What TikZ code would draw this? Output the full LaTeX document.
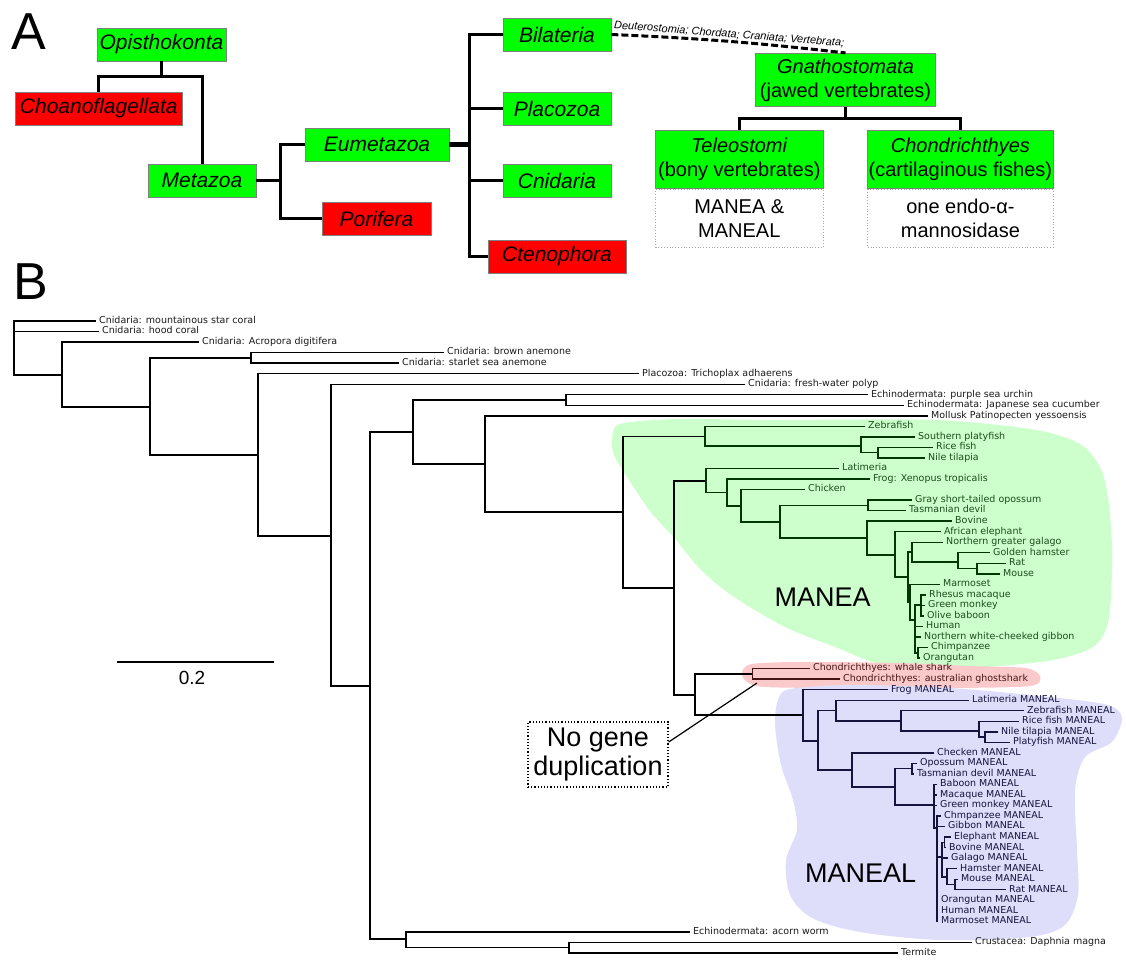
\documentclass[tikz,border=0pt]{standalone}
\usepackage{fontspec}
\setmainfont{Liberation Sans}
\newfontfamily\treefont{DejaVu Sans}
\usepackage{tikz}
\usetikzlibrary{positioning}
\usepackage{xcolor}
\definecolor{taxgreen}{RGB}{0,255,0}
\definecolor{taxred}{RGB}{255,0,0}
\definecolor{maneafill}{RGB}{204,255,204}
\definecolor{sharkfill}{RGB}{250,202,202}
\definecolor{manealfill}{RGB}{222,222,250}
\definecolor{maneaink}{RGB}{0,55,0}
\definecolor{maneatext}{RGB}{30,75,30}
\definecolor{manealink}{RGB}{20,20,60}
\definecolor{sharkink}{RGB}{70,20,20}
\definecolor{leafgray}{RGB}{25,25,25}

\begin{document}
\begin{tikzpicture}[
    x=1pt, y=-1pt,
    taxon/.style={draw=gray, line width=0.8pt, rectangle, minimum height=33pt,
                  inner sep=0pt, font=\fontsize{21}{24}\selectfont\itshape},
    hasgene/.style={taxon, fill=taxgreen},
    nogene/.style={taxon, fill=taxred},
    clade/.style={draw=gray, line width=0.8pt, fill=taxgreen, align=center,
                  minimum height=57.6pt, inner sep=0pt, font=\fontsize{20}{24}\selectfont},
    genes/.style={draw=gray!70, dotted, line width=0.8pt, align=center,
                  minimum height=58pt, inner sep=0pt, font=\fontsize{20}{24}\selectfont},
    link/.style={line width=3pt},
    leaf/.style={anchor=west, inner xsep=3pt, inner ysep=0pt, text height=6.6pt,
                 text depth=1.9pt, font=\treefont\fontsize{9.5}{10}\selectfont},
    branch/.style={line width=1.4pt},
    tag/.style={inner sep=0pt, anchor=base west},
  ]
    \useasboundingbox (0,0) rectangle (1126,959);

    % ---------- A ----------
    \node[tag, font=\fontsize{52}{52}\selectfont] (panelA) at (11,49) {A};

    \node[hasgene, minimum width=129pt] (opi) at (161.5,44.5) {Opisthokonta};
    \node[nogene, minimum width=166.5pt] (choano) at (98.75,108.5) {Choanoflagellata};
    \node[hasgene, minimum width=108pt] (meta) at (202,180.5) {Metazoa};
    \node[hasgene, minimum width=144pt] (eume) at (377,144.5) {Eumetazoa};
    \node[nogene, minimum width=109pt] (pori) at (376.5,218.5) {Porifera};
    \node[hasgene, minimum width=108pt] (bila) at (557,34.5) {Bilateria};
    \node[hasgene, minimum width=108pt] (placo) at (557,108.5) {Placozoa};
    \node[hasgene, minimum width=108pt] (cnid) at (557,180.5) {Cnidaria};
    \node[nogene, minimum width=138pt] (cteno) at (557,256.5) {Ctenophora};

    \draw[link] (opi.south) -- ++(0,15.5) -| (choano.north);
    \draw[link] (opi.south) -- ++(0,15.5) -| (meta.north);
    \draw[link] (meta.east) -- ++(24,0) |- (eume.west);
    \draw[link] (meta.east) -- ++(24,0) |- (pori.west);
    \draw[line width=4.5pt] (eume.east) -- ++(20,0);
    \foreach \t in {bila,placo,cnid,cteno}
      \draw[link] (eume.east) -- ++(20,0) |- (\t.west);

    \node[clade, minimum width=180pt, minimum height=53.4pt] (gna) at (845.5,80)
      {\textit{Gnathostomata}\\(jawed vertebrates)};
    \node[clade, minimum width=167.5pt] (tele) at (739.3,159.5)
      {\textit{Teleostomi}\\(bony vertebrates)};
    \node[clade, minimum width=185.3pt] (chon) at (960.4,159.5)
      {\textit{Chondrichthyes}\\(cartilaginous fishes)};
    \node[genes, minimum width=167.5pt, below=0pt of tele] (telegenes) {MANEA \&\\MANEAL};
    \node[genes, minimum width=185.3pt, below=0pt of chon] (chongenes) {one endo-α-\\mannosidase};

    \foreach \t in {tele,chon}
      \draw[link] (gna.south) -- ++(0,11.5) -| (\t.north);
    \draw[line width=3pt, dash pattern=on 7pt off 3pt] (bila.east) to[bend left=2]
      node[sloped, above, inner sep=1pt, font=\fontsize{11}{11}\selectfont\itshape]
      {Deuterostomia; Chordata; Craniata; Vertebrata;} (gna.north);

    % ---------- B ----------
    \node[tag, font=\fontsize{52}{52}\selectfont] (panelB) at (13,299) {B};

    \fill[maneafill] plot[smooth cycle, tension=0.5] coordinates {
      (612,440) (620,424) (680,419) (770,420) (935,420) (1036,430) (1080,444)
      (1100,467) (1108,497) (1112,544) (1112,573) (1108,623) (1093,647) (1053,660)
      (986,667) (935,668) (880,664) (835,647) (785,627) (734,597) (701,570)
      (676,540) (650,511) (627,477) (614,455)};
    \fill[sharkfill] plot[smooth cycle, tension=0.5] coordinates {
      (742,672) (752,664) (800,662) (900,663) (970,666) (1025,668) (1040,676)
      (1030,686) (950,688) (850,688) (765,687) (746,681)};
    \fill[manealfill] plot[smooth cycle, tension=0.5] coordinates {
      (790,689) (850,685) (950,688) (1050,697) (1108,705) (1122,718) (1112,742)
      (1085,757) (1075,790) (1077,850) (1078,895) (1065,925) (1030,937) (940,940)
      (860,932) (812,918) (790,895) (786,860) (797,830) (793,800) (781,765)
      (775,725) (778,700)};

    \node[tag, font=\fontsize{27}{27}\selectfont] (maneatag) at (774.5,606) {MANEA};
    \node[tag, font=\fontsize{27}{27}\selectfont] (manealtag) at (805,882.7) {MANEAL};

    % leaves
    \foreach \i/\x/\t in {1/96/{Cnidaria: mountainous star coral}, 2/99/{Cnidaria: hood coral},
        3/199/{Cnidaria: Acropora digitifera}, 4/444/{Cnidaria: brown anemone},
        5/399/{Cnidaria: starlet sea anemone}, 6/639/{Placozoa: Trichoplax adhaerens},
        7/745/{Cnidaria: fresh-water polyp}, 8/868/{Echinodermata: purple sea urchin},
        9/904/{Echinodermata: Japanese sea cucumber}, 10/928/{Mollusk Patinopecten yessoensis},
        59/690/{Echinodermata: acorn worm}, 60/972/{Crustacea: Daphnia magna}, 61/898/{Termite}}
      \node[leaf, text=leafgray] (l\i) at (\x,{321+(\i-1)*10.533}) {\t};
    \foreach \i/\x/\t in {11/865/Zebrafish, 12/915/Southern platyfish, 13/933/Rice fish,
        14/925/Nile tilapia, 15/839/Latimeria, 16/870/{Frog: Xenopus tropicalis},
        17/805/Chicken, 18/912/Gray short-tailed opossum, 19/906/Tasmanian devil,
        20/952/Bovine, 21/941/African elephant, 22/943/Northern greater galago,
        23/990/Golden hamster, 24/1006/Rat, 25/1000/Mouse, 26/940/Marmoset,
        27/926/Rhesus macaque, 28/925/Green monkey, 29/924/Olive baboon, 30/923/Human,
        31/921/Northern white-cheeked gibbon, 32/928/Chimpanzee, 33/920/Orangutan}
      \node[leaf, text=maneatext] (l\i) at (\x,{321+(\i-1)*10.533}) {\t};
    \foreach \i/\x/\t in {34/810/{Chondrichthyes: whale shark},
        35/840/{Chondrichthyes: australian ghostshark}}
      \node[leaf, text=sharkink] (l\i) at (\x,{321+(\i-1)*10.533}) {\t};
    \foreach \i/\x/\t in {36/888/Frog MANEAL, 37/969/Latimeria MANEAL, 38/1024/Zebrafish MANEAL,
        39/1019/Rice fish MANEAL, 40/998/Nile tilapia MANEAL, 41/1010/Platyfish MANEAL,
        42/934/Checken MANEAL, 43/917/Opossum MANEAL, 44/914/Tasmanian devil MANEAL,
        45/937/Baboon MANEAL, 46/937/Macaque MANEAL, 47/937/Green monkey MANEAL,
        48/941/Chmpanzee MANEAL, 49/945/Gibbon MANEAL, 50/951/Elephant MANEAL,
        51/946/Bovine MANEAL, 52/948/Galago MANEAL, 53/957/Hamster MANEAL,
        54/958/Mouse MANEAL, 55/1006/Rat MANEAL, 56/938/Orangutan MANEAL,
        57/938/Human MANEAL, 58/938/Marmoset MANEAL}
      \node[leaf, text=manealink] (l\i) at (\x,{321+(\i-1)*10.533}) {\t};

    % internal nodes
    \coordinate (r0) at (14,348);       \coordinate (n1) at (62,375);
    \coordinate (n2) at (150,407);      \coordinate (na) at (251,357.9);
    \coordinate (n3) at (258,455);      \coordinate (n4) at (331,536);
    \coordinate (n5) at (370,686);      \coordinate (n6) at (413,432);
    \coordinate (nech) at (566,400);    \coordinate (n7) at (485,464);
    \coordinate (n8) at (623,512);      \coordinate (n9) at (674,588);
    \coordinate (nac) at (406,939);     \coordinate (ndt) at (569,947.7);
    \coordinate (nfish) at (705,436.7); \coordinate (nf2) at (861,446);
    \coordinate (nf3) at (878,452.7);   \coordinate (ntet) at (706,481);
    \coordinate (nt2) at (727,492.5);   \coordinate (namn) at (741,506);
    \coordinate (nmam) at (780,522);    \coordinate (nmar) at (868,505.3);
    \coordinate (neu) at (867,538);     \coordinate (neu2) at (895,555);
    \coordinate (neu3) at (908,577);    \coordinate (nglr) at (912,552);
    \coordinate (nrod) at (958,562);    \coordinate (nrm) at (977,568.5);
    \coordinate (nprim) at (910,602);   \coordinate (ncat) at (915,620);
    \coordinate (nowm) at (921,605);    \coordinate (nco) at (918,652.8);
    \coordinate (ndup) at (695,695);    \coordinate (nshark) at (752.5,673.9);
    \coordinate (nmaneal) at (803,715); \coordinate (nm2) at (818,741);
    \coordinate (nm3) at (836,710.6);   \coordinate (nfm) at (901,721);
    \coordinate (nfm2) at (979,731);    \coordinate (nfm3) at (985,737);
    \coordinate (namM) at (852,770);    \coordinate (nmamM) at (895,787);
    \coordinate (nmarM) at (912,768.7); \coordinate (nplM) at (934,805);
    \coordinate (napeM) at (937,828);   \coordinate (nlaurM) at (942,857);
    \coordinate (nebM) at (944.5,842.4); \coordinate (nrodM) at (947,877);
    \coordinate (nmrM) at (955,884.5);

    % branches
    \foreach \p/\c in {r0/l1.west, r0/l2.west, r0/n1, n1/l3.west, n1/n2, n2/na, n2/n3,
        na/l4.west, na/l5.west, n3/l6.west, n3/n4, n4/l7.west, n4/n5, n5/n6, n5/nac,
        n6/nech, n6/n7, nech/l8.west, nech/l9.west, n7/l10.west, n7/n8, n8/nfish, n8/n9,
        n9/ntet, n9/ndup, ndup/nshark, ndup/nmaneal, nac/l59.west, nac/ndt,
        ndt/l60.west, ndt/l61.west}
      \draw[branch] (\p) |- (\c);
    \foreach \p/\c in {nfish/l11.west, nfish/nf2, nf2/l12.west, nf2/nf3, nf3/l13.west,
        nf3/l14.west, ntet/l15.west, ntet/nt2, nt2/l16.west, nt2/namn, namn/l17.west,
        namn/nmam, nmam/nmar, nmam/neu, nmar/l18.west, nmar/l19.west, neu/l20.west,
        neu/neu2, neu2/l21.west, neu2/neu3, neu3/nglr, neu3/nprim, nglr/l22.west,
        nglr/nrod, nrod/l23.west, nrod/nrm, nrm/l24.west, nrm/l25.west, nprim/l26.west,
        nprim/ncat, ncat/nowm, ncat/l30.west, ncat/l31.west, ncat/nco, nowm/l27.west,
        nowm/l28.west, nowm/l29.west, nco/l32.west, nco/l33.west}
      \draw[branch, maneaink] (\p) |- (\c);
    \foreach \p/\c in {nshark/l34.west, nshark/l35.west}
      \draw[branch, sharkink] (\p) |- (\c);
    \foreach \p/\c in {nmaneal/l36.west, nmaneal/nm2, nm2/nm3, nm2/namM, nm3/l37.west,
        nm3/nfm, nfm/l38.west, nfm/nfm2, nfm2/l39.west, nfm2/nfm3, nfm3/l40.west,
        nfm3/l41.west, namM/l42.west, namM/nmamM, nmamM/nmarM, nmamM/nplM,
        nmarM/l43.west, nmarM/l44.west, nplM/l45.west, nplM/l46.west, nplM/l47.west,
        nplM/napeM, napeM/l48.west, napeM/l49.west, napeM/nlaurM, napeM/l56.west,
        napeM/l57.west, napeM/l58.west, nlaurM/nebM, nlaurM/l52.west, nlaurM/nrodM,
        nebM/l50.west, nebM/l51.west, nrodM/l53.west, nrodM/nmrM, nmrM/l54.west,
        nmrM/l55.west}
      \draw[branch, manealink] (\p) |- (\c);

    % scale bar
    \coordinate (sbl) at (117,662);
    \coordinate (sbr) at (274,662);
    \draw[line width=1.4pt] (sbl) -- (sbr);
    \node[inner sep=0pt, anchor=base, font=\fontsize{19}{19}\selectfont] (sbtext) at (192,684.5) {0.2};

    % note on the shark branch
    \node[draw, dotted, line width=1.2pt, minimum width=140pt, minimum height=65pt,
          inner sep=0pt, align=center, font=\fontsize{27}{29}\selectfont]
      (nodup) at (598,754.5) {No gene\\duplication};
    \coordinate (nodupend) at (757,683);
    \draw[line width=1.2pt] (nodup.10) -- (nodupend);
  \end{tikzpicture}
\end{document}
